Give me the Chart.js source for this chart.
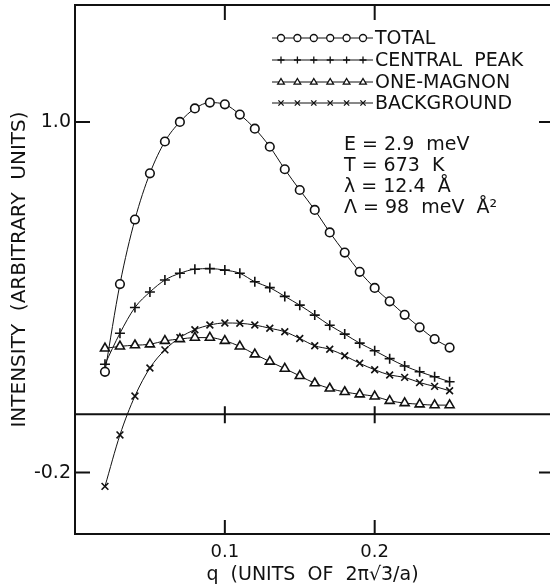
<!DOCTYPE html>
<html>
<head>
<meta charset="utf-8">
<script src="https://cdn.jsdelivr.net/npm/chart.js@4.4.1/dist/chart.umd.min.js"></script>
<style>
  html, body { margin: 0; padding: 0; background: #fff; overflow: hidden; }
  #wrap { width: 550px; height: 587px; }
</style>
</head>
<body>
<div id="wrap"><canvas id="chart" width="550" height="587"></canvas></div>
<script>
// q values (units of 2*pi*sqrt(3)/a)
const q = [0.02, 0.03, 0.04, 0.05, 0.06, 0.07, 0.08, 0.09, 0.10, 0.11, 0.12, 0.13,
           0.14, 0.15, 0.16, 0.17, 0.18, 0.19, 0.20, 0.21, 0.22, 0.23, 0.24, 0.25];

const total = [0.145, 0.445, 0.666, 0.824, 0.933, 1.000, 1.046, 1.066, 1.060, 1.025, 0.977, 0.915,
               0.838, 0.767, 0.699, 0.622, 0.553, 0.487, 0.432, 0.386, 0.340, 0.297, 0.257, 0.228];
const centralPeak = [0.171, 0.277, 0.365, 0.418, 0.459, 0.482, 0.496, 0.498, 0.493, 0.482, 0.453, 0.433,
                     0.403, 0.373, 0.339, 0.304, 0.274, 0.243, 0.217, 0.190, 0.165, 0.145, 0.128, 0.111];
const oneMagnon = [0.225, 0.232, 0.236, 0.239, 0.251, 0.257, 0.262, 0.262, 0.251, 0.232, 0.205, 0.180,
                   0.156, 0.131, 0.106, 0.088, 0.076, 0.068, 0.061, 0.046, 0.038, 0.034, 0.031, 0.031];
const background = [-0.247, -0.071, 0.062, 0.158, 0.220, 0.262, 0.289, 0.305, 0.312, 0.311, 0.305, 0.294,
                    0.282, 0.259, 0.234, 0.222, 0.200, 0.174, 0.152, 0.134, 0.126, 0.108, 0.095, 0.080];

const xTicks = [0.1, 0.2];
const yTicks = [-0.2, 1.0];

const seriesNames = ['TOTAL', 'CENTRAL  PEAK', 'ONE-MAGNON', 'BACKGROUND'];
const seriesStyles = ['circle', 'cross', 'triangle', 'crossRot'];
const notes = ['E = 2.9  meV', 'T = 673  K', 'λ = 12.4  Å', 'Λ = 98  meV  Å²'];

const ink = '#111';
const font = 'DejaVu Sans';

const toPoints = ys => q.map((x, i) => ({x: x, y: ys[i]}));

const makeSet = (label, ys, style, radius) => ({
    label: label,
    data: toPoints(ys),
    borderColor: ink,
    borderWidth: 1,
    pointStyle: style,
    pointRadius: radius,
    pointBorderWidth: 1.6,
    pointBorderColor: ink,
    pointBackgroundColor: '#fff',
    cubicInterpolationMode: 'monotone',
    fill: false
});

const datasets = [
    makeSet(seriesNames[0], total, seriesStyles[0], 4.3),
    makeSet(seriesNames[1], centralPeak, seriesStyles[1], 5),
    makeSet(seriesNames[2], oneMagnon, seriesStyles[2], 5.2),
    makeSet(seriesNames[3], background, seriesStyles[3], 4.8)
];

// the scales must not take extra room, the frame sits where the original one does
const noPad = s => {
    s.paddingTop = 0; s.paddingBottom = 0;
    s.paddingLeft = 0; s.paddingRight = 0;
};

// small marker for the legend
function drawMark(ctx, style, x, y, r) {
    ctx.beginPath();
    if (style === 'circle') {
        ctx.arc(x, y, r, 0, Math.PI * 2);
        ctx.fill();
    } else if (style === 'cross') {
        ctx.moveTo(x - r, y); ctx.lineTo(x + r, y);
        ctx.moveTo(x, y - r); ctx.lineTo(x, y + r);
    } else if (style === 'triangle') {
        ctx.moveTo(x, y - r);
        ctx.lineTo(x + r * 0.95, y + r * 0.6);
        ctx.lineTo(x - r * 0.95, y + r * 0.6);
        ctx.closePath();
        ctx.fill();
    } else {
        const d = r * 0.75;
        ctx.moveTo(x - d, y - d); ctx.lineTo(x + d, y + d);
        ctx.moveTo(x + d, y - d); ctx.lineTo(x - d, y + d);
    }
    ctx.stroke();
}

// frame, zero line and inward ticks
const framePlugin = {
    id: 'frame',
    afterDatasetsDraw: (chart) => {
        const {ctx, chartArea: a, scales: {x, y}} = chart;
        const y0 = y.getPixelForValue(0);
        const r = a.right + 2; // right edge of the frame falls just outside the picture
        ctx.save();
        ctx.strokeStyle = ink;
        ctx.lineWidth = 2;
        ctx.beginPath();
        ctx.rect(a.left, a.top, r - a.left, a.bottom - a.top);
        ctx.moveTo(a.left, y0); ctx.lineTo(r, y0);
        xTicks.forEach(v => {
            const px = x.getPixelForValue(v);
            ctx.moveTo(px, a.top); ctx.lineTo(px, a.top + 15);
            ctx.moveTo(px, a.bottom); ctx.lineTo(px, a.bottom - 14);
            ctx.moveTo(px, y0 - 8); ctx.lineTo(px, y0 + 9);
        });
        yTicks.forEach(v => {
            const py = y.getPixelForValue(v);
            ctx.moveTo(a.left, py); ctx.lineTo(a.left + 15, py);
            ctx.moveTo(r, py); ctx.lineTo(r - 13, py);
        });
        ctx.stroke();
        ctx.restore();
    }
};

// legend block and run parameters
const legendPlugin = {
    id: 'legendBlock',
    afterDraw: (chart) => {
        const {ctx} = chart;
        const rows = [38, 60, 82, 103];
        ctx.save();
        ctx.strokeStyle = ink;
        rows.forEach((ry, i) => {
            ctx.lineWidth = 1;
            ctx.beginPath();
            ctx.moveTo(272, ry); ctx.lineTo(373, ry);
            ctx.stroke();
            ctx.lineWidth = 1.3;
            for (let k = 0; k < 6; k++) {
                ctx.fillStyle = '#fff';
                drawMark(ctx, seriesStyles[i], 281 + k * 16.4, ry, 3.5);
            }
            ctx.fillStyle = ink;
            ctx.font = '19px "' + font + '"';
            ctx.textBaseline = 'middle';
            ctx.textAlign = 'left';
            ctx.fillText(seriesNames[i], 375, ry + 1);
        });
        ctx.fillStyle = ink;
        ctx.font = '19px "' + font + '"';
        notes.forEach((t, i) => {
            ctx.fillText(t, 344, 145 + i * 21);
        });
        ctx.restore();
    }
};

const ctx = document.getElementById('chart');

const myChart = new Chart(ctx, {
    type: 'line',
    data: {datasets: datasets},
    options: {
        responsive: false,
        animation: false,
        devicePixelRatio: 1,
        layout: {autoPadding: false, padding: {top: 5, left: 0, right: 0, bottom: 0}},
        plugins: {
            legend: {display: false},
            tooltip: {enabled: false}
        },
        scales: {
            x: {
                type: 'linear',
                min: 0,
                max: 0.317,
                grid: {display: false, drawTicks: false},
                border: {display: false},
                afterBuildTicks: s => { s.ticks = xTicks.map(v => ({value: v})); },
                afterFit: s => { s.height = 53; noPad(s); },
                ticks: {
                    color: ink,
                    font: {family: font, size: 18},
                    padding: 8,
                    maxRotation: 0,
                    callback: v => v.toFixed(1)
                },
                title: {
                    display: true,
                    text: 'q  (UNITS  OF  2π√3/a)',
                    color: ink,
                    font: {family: font, size: 19},
                    padding: {top: 0, bottom: 1}
                }
            },
            y: {
                type: 'linear',
                min: -0.41,
                max: 1.40,
                grid: {display: false, drawTicks: false},
                border: {display: false},
                afterBuildTicks: s => { s.ticks = yTicks.map(v => ({value: v})); },
                afterFit: s => { s.width = 75; noPad(s); },
                ticks: {
                    color: ink,
                    font: {family: font, size: 19},
                    padding: 4,
                    callback: v => v.toFixed(1)
                },
                title: {
                    display: true,
                    text: 'INTENSITY  (ARBITRARY  UNITS)',
                    color: ink,
                    font: {family: font, size: 20},
                    padding: {top: 8, bottom: 0}
                }
            }
        }
    },
    plugins: [framePlugin, legendPlugin]
});
</script>
</body>
</html>
